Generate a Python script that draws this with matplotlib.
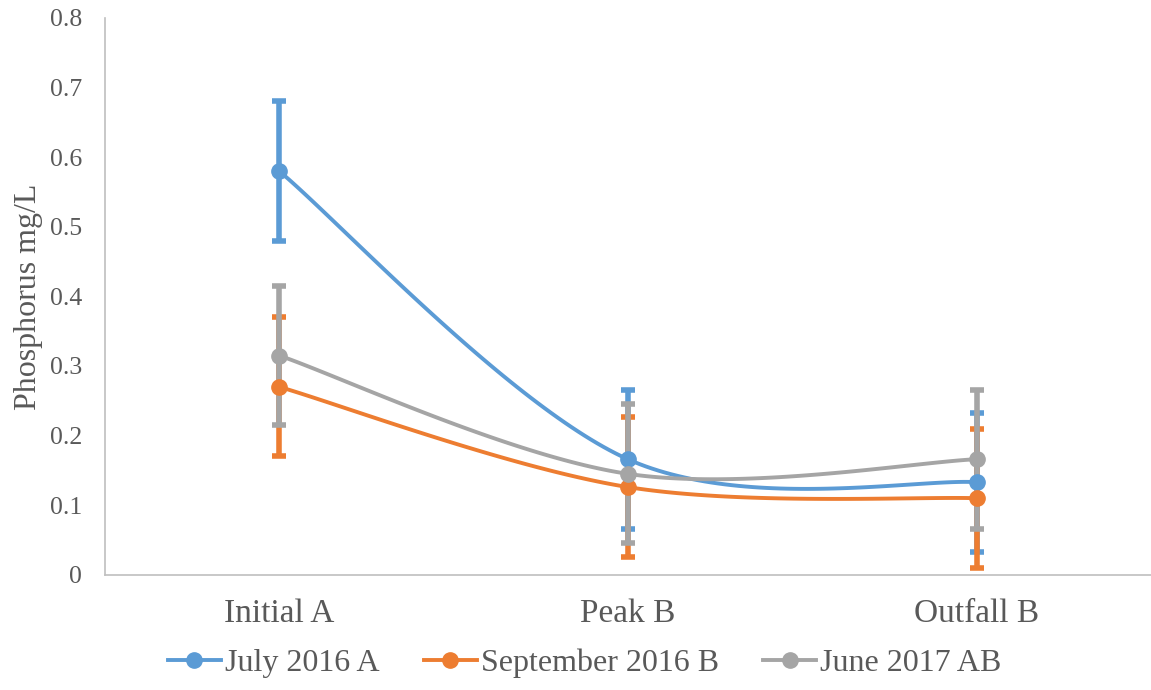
import numpy as np
import matplotlib
matplotlib.use("Agg")
import matplotlib.pyplot as plt

# data
categories = ["Initial A", "Peak B", "Outfall B"]
july_2016 = [0.58, 0.166, 0.133]
sept_2016 = [0.27, 0.126, 0.110]
june_2017 = [0.315, 0.145, 0.166]
err = 0.1

series = [
    ("July 2016 A", july_2016, "#5B9BD5"),
    ("September 2016 B", sept_2016, "#ED7D31"),
    ("June 2017 AB", june_2017, "#A5A5A5"),
]

plt.rcParams["font.family"] = ["Liberation Serif", "DejaVu Serif"]


def smooth(xs, ys, n=60):
    # Excel-like smoothed line: Catmull-Rom as cubic Bezier pieces
    px = np.concatenate([[xs[0]], xs, [xs[-1]]])
    py = np.concatenate([[ys[0]], ys, [ys[-1]]])
    outx, outy = [], []
    t = np.linspace(0, 1, n)
    for i in range(1, len(px) - 2):
        p0 = np.array([px[i], py[i]])
        p3 = np.array([px[i + 1], py[i + 1]])
        p1 = p0 + (np.array([px[i + 1], py[i + 1]]) - np.array([px[i - 1], py[i - 1]])) / 6
        p2 = p3 - (np.array([px[i + 2], py[i + 2]]) - np.array([px[i], py[i]])) / 6
        b = ((1 - t) ** 3)[:, None] * p0 + (3 * (1 - t) ** 2 * t)[:, None] * p1 \
            + (3 * (1 - t) * t ** 2)[:, None] * p2 + (t ** 3)[:, None] * p3
        outx.extend(b[:, 0])
        outy.extend(b[:, 1])
    return np.array(outx), np.array(outy)


fig = plt.figure(figsize=(11.51, 6.9), dpi=100)
ax = fig.add_axes([0.091, 0.167, 0.909, 0.807])

x = np.arange(len(categories))
for name, vals, col in series:
    sx, sy = smooth(x.astype(float), np.array(vals))
    ax.errorbar(x, vals, yerr=err, fmt="none", ecolor=col, elinewidth=4,
                capsize=5, capthick=4, zorder=2)
    ax.plot(sx, sy, color=col, lw=2.8, zorder=3)
    ax.plot(x, vals, "o", color=col, ms=11, zorder=4)
    ax.plot([], [], "-o", color=col, lw=2.8, ms=11, label=name)

ax.set_xlim(-0.5, 2.5)
ax.set_ylim(0, 0.8)
ax.set_yticks(np.arange(0, 0.81, 0.1))
ax.set_yticklabels(["0"] + [f"{v:.1f}" for v in np.arange(0.1, 0.81, 0.1)])
ax.set_xticks(x)
ax.set_xticklabels(categories)
ax.tick_params(axis="y", length=0, labelsize=18.5, colors="#595959", pad=16.5)
ax.tick_params(axis="x", length=0, labelsize=24, colors="#595959", pad=17)
for s in ["top", "right"]:
    ax.spines[s].set_visible(False)
for s in ["left", "bottom"]:
    ax.spines[s].set_color("#BFBFBF")
    ax.spines[s].set_linewidth(1.2)
ax.set_ylabel("Phosphorus mg/L", fontsize=23, color="#595959")
ax.yaxis.set_label_coords(-0.059, 0.5)

leg = fig.legend(loc="center", bbox_to_anchor=(0.508, 0.039), ncol=3,
                 frameon=False, fontsize=23, handlelength=1.66, handletextpad=0.13,
                 columnspacing=1.38, borderaxespad=0, borderpad=0)
for t in leg.get_texts():
    t.set_color("#595959")

fig.savefig("out.png", dpi=100)
